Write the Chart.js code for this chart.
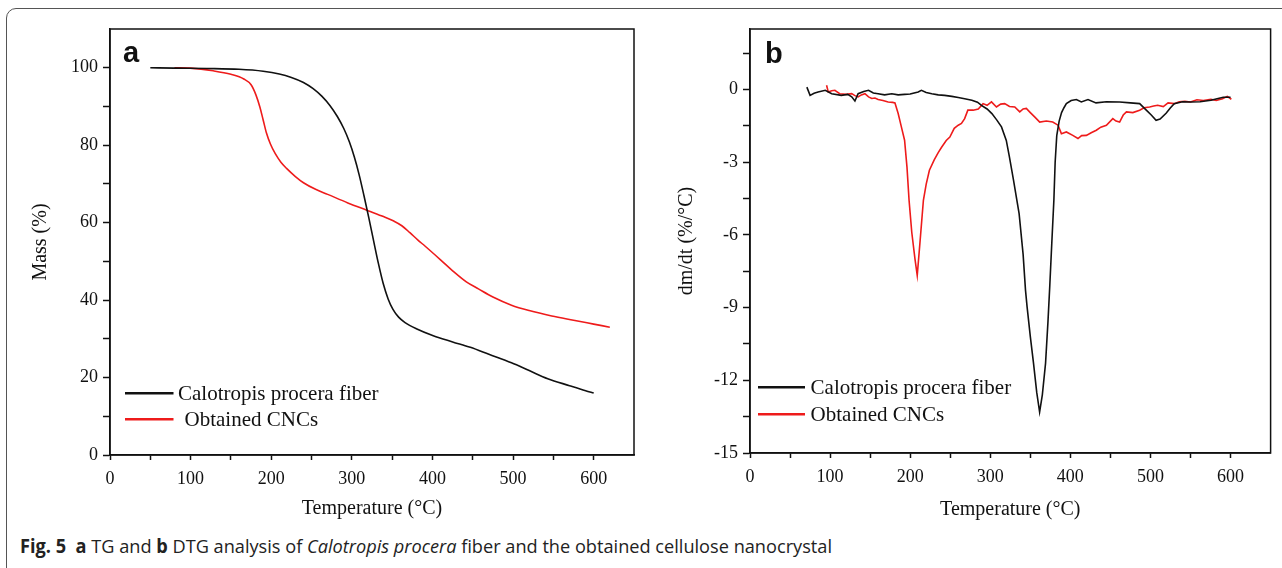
<!DOCTYPE html>
<html>
<head>
<meta charset="utf-8">
<script src="https://cdn.jsdelivr.net/npm/chart.js@4.4.1/dist/chart.umd.min.js"></script>
<style>
  html, body { margin: 0; padding: 0; background: #fff; }
  body { width: 1282px; height: 568px; position: relative; overflow: hidden; }
  .frame {
    position: absolute; left: 6px; top: 8px; width: 1300px; height: 572px;
    border: 1.5px solid #555; border-radius: 10px; box-sizing: border-box;
  }
  canvas { position: absolute; top: 0; }
  #tg { left: 0; }
  #dtg { left: 640px; }
  #caption {
    position: absolute; left: 20px; top: 536px; line-height: 20px;
    font-family: "Open Sans", sans-serif; font-size: 19px; color: #222;
    white-space: nowrap; transform-origin: 0 0;
  }
</style>
</head>
<body>
<div class="frame"></div>
<canvas id="tg" width="640" height="530"></canvas>
<canvas id="dtg" width="642" height="530"></canvas>
<div id="caption"><b>Fig. 5</b>&nbsp; <b>a</b> TG and <b>b</b> DTG analysis of <i>Calotropis procera</i> fiber and the obtained cellulose nanocrystal</div>

<script>
// Series labels
const fiberLabel = 'Calotropis procera fiber';
const cncLabel = 'Obtained CNCs';

// (a) TG - mass (%) vs temperature (°C)
const tgFiberTemp = [50, 80, 120, 160, 190, 210, 225, 240, 252, 263, 273, 282, 290, 297, 303, 309, 315, 321, 327, 333, 339, 345, 351, 358, 366, 380, 401, 425, 447, 470, 498, 520, 543, 570, 590, 600];
const tgFiberMass = [100, 99.9, 99.8, 99.6, 99.1, 98.4, 97.5, 96.2, 94.6, 92.6, 90.2, 87.4, 84.3, 80.8, 77, 72.4, 67, 61.3, 55.3, 49.4, 44.2, 40.3, 37.6, 35.6, 34.2, 32.6, 30.8, 29.2, 27.8, 26.0, 23.8, 21.8, 19.7, 17.9, 16.6, 16.0];

const tgCncTemp = [80, 100, 128, 150, 166, 175, 181, 186, 190, 194, 199, 205, 212, 219, 230, 240, 255, 270, 295, 320, 340, 352, 362, 372, 382, 391, 410, 427, 442, 457, 475, 498, 520, 548, 575, 600, 620];
const tgCncMass = [100, 99.9, 99.2, 98.3, 97.1, 95.6, 93, 89.8, 86.5, 83.2, 80.3, 77.8, 75.6, 74, 71.9, 70.3, 68.6, 67.3, 65.1, 63.1, 61.5, 60.4, 59.2, 57.4, 55.5, 53.9, 50.4, 47.2, 44.7, 42.9, 40.8, 38.7, 37.3, 35.9, 34.8, 33.8, 33.0];

// (b) DTG - dm/dt (%/°C) vs temperature (°C)
const dtgFiberTemp = [71, 75, 80, 85, 94, 102, 114, 122, 127, 131, 135, 142, 148, 154, 160, 168, 177, 185, 193, 200, 210, 214, 220, 227, 235, 243, 252, 260, 268, 277, 284, 289, 296, 302, 308, 314, 320, 324, 329, 336, 341, 344, 346, 350, 354, 358, 361.6, 365, 369, 372, 374.3, 377, 379.4, 381, 383, 386, 389, 392, 395, 401, 407.5, 413.7, 422, 432, 445, 461.5, 475, 486.5, 494.8, 501, 507, 512, 519.5, 525, 529.7, 540, 550, 562, 575.5, 590.8, 600];
const dtgFiberRate = [0.1, -0.24, -0.15, -0.1, -0.03, -0.17, -0.24, -0.2, -0.3, -0.47, -0.17, -0.08, -0.03, -0.14, -0.17, -0.22, -0.17, -0.22, -0.2, -0.18, -0.1, -0.03, -0.12, -0.17, -0.22, -0.24, -0.28, -0.33, -0.38, -0.44, -0.52, -0.65, -0.8, -0.99, -1.25, -1.54, -2.1, -2.8, -3.74, -5.12, -6.8, -8.29, -8.98, -10.2, -11.3, -12.5, -13.31, -12.6, -11.3, -9.6, -8.1, -6.2, -4.57, -3.0, -1.9, -1.3, -0.95, -0.75, -0.58, -0.45, -0.41, -0.51, -0.41, -0.55, -0.5, -0.51, -0.55, -0.58, -0.85, -1.05, -1.27, -1.22, -0.98, -0.75, -0.58, -0.5, -0.51, -0.5, -0.44, -0.32, -0.32];

const dtgCncTemp = [95.6, 97.7, 102, 106, 112, 120, 127, 131, 135, 139, 143.5, 148, 152, 156, 160, 166, 172.5, 178, 181, 185, 189, 193, 196, 198.6, 202, 206, 208.8, 212, 216.5, 220, 224, 230, 235, 239.4, 245, 249.5, 255, 260, 264, 268, 272, 278.6, 285, 291, 296, 301.5, 307.7, 313, 318, 324, 330.6, 336.8, 341, 345, 350, 356, 361.7, 370, 378, 384.6, 388.8, 395, 403, 409.5, 414, 420, 426, 432.4, 438, 445, 453, 457, 461.5, 466, 470, 478, 486.5, 492, 499, 504, 509, 516, 522, 529.7, 536, 543, 550, 558, 566, 575.5, 582, 590, 595.9, 601];
const dtgCncRate = [0.18, -0.1, -0.05, -0.03, -0.17, -0.2, -0.17, -0.25, -0.3, -0.22, -0.17, -0.3, -0.37, -0.35, -0.41, -0.45, -0.51, -0.53, -0.55, -0.99, -1.54, -2.09, -3.2, -4.57, -5.9, -7.0, -7.67, -6.4, -4.57, -3.9, -3.33, -2.9, -2.6, -2.37, -2.1, -1.96, -1.6, -1.47, -1.4, -1.2, -0.85, -0.85, -0.8, -0.58, -0.65, -0.51, -0.72, -0.6, -0.58, -0.7, -0.72, -0.92, -0.8, -0.78, -0.95, -1.15, -1.34, -1.3, -1.34, -1.47, -1.82, -1.75, -1.89, -2.02, -1.9, -1.89, -1.78, -1.68, -1.55, -1.47, -1.2, -1.3, -1.34, -1.05, -0.92, -0.95, -0.85, -0.75, -0.72, -0.68, -0.65, -0.7, -0.55, -0.58, -0.5, -0.48, -0.51, -0.42, -0.45, -0.4, -0.45, -0.38, -0.28, -0.4];

// Axis labels
const xTitle = 'Temperature (°C)';
const tgYTitle = 'Mass (%)';
const dtgYTitle = 'dm/dt (%/°C)';

const INK = '#111';
const RED = '#ee1b1b';
const serif = '"Liberation Serif", "Times New Roman", serif';

const toPoints = (xs, ys) => xs.map((x, i) => ({ x: x, y: ys[i] }));

// Box round the plot area (top and right sides have no ticks)
const plotBox = {
    id: 'plotBox',
    afterDraw(chart) {
        const { ctx, chartArea: { left, top, right, bottom } } = chart;
        ctx.save();
        ctx.strokeStyle = INK;
        ctx.lineWidth = 1.5;
        ctx.strokeRect(left, top, right - left, bottom - top);
        ctx.restore();
    }
};

// Panel letter plus the legend that sits inside the plot
function panelDecor(letter, lx, ly, items) {
    return {
        id: 'panelDecor',
        afterDraw(chart) {
            const ctx = chart.ctx;
            ctx.save();
            ctx.fillStyle = INK;
            ctx.font = 'bold 29px "Liberation Sans", Arial, sans-serif';
            ctx.textBaseline = 'alphabetic';
            ctx.fillText(letter, lx, ly);

            ctx.font = '21px ' + serif;
            ctx.textBaseline = 'middle';
            items.forEach(item => {
                const ds = chart.data.datasets[item.index];
                ctx.strokeStyle = ds.borderColor;
                ctx.lineWidth = 2.5;
                ctx.beginPath();
                ctx.moveTo(item.x0, item.y);
                ctx.lineTo(item.x1, item.y);
                ctx.stroke();
                ctx.fillStyle = INK;
                ctx.fillText(ds.label, item.tx, item.y + 1);
            });
            ctx.restore();
        }
    };
}

function makeScales(o) {
    return {
        x: {
            type: 'linear',
            min: 0,
            max: 650,
            afterFit: s => { s.height = o.xHeight; },
            afterBuildTicks: s => { s.ticks = s.ticks.filter(t => t.value < 649); },
            ticks: {
                stepSize: 50,
                autoSkip: false,
                maxRotation: 0,
                padding: 8,
                color: INK,
                font: { family: serif, size: 18 },
                callback: v => (v % 100 === 0 ? String(v) : '')
            },
            grid: { drawOnChartArea: false, tickLength: 5, tickColor: INK, tickWidth: 1.5 },
            border: { display: true, color: INK, width: 1.5 },
            title: {
                display: true,
                text: xTitle,
                color: INK,
                font: { family: serif, size: 20 },
                padding: { top: 0, bottom: o.xTitlePad }
            }
        },
        y: {
            type: 'linear',
            min: o.yMin,
            max: o.yMax,
            afterFit: s => { s.width = 110; },
            afterBuildTicks: s => { s.ticks = s.ticks.filter(t => t.value < o.yLast); },
            ticks: {
                stepSize: o.yStep,
                autoSkip: false,
                padding: 5,
                color: INK,
                font: { family: serif, size: 18 },
                callback: v => {
                    const r = v / o.yLabelStep;
                    return Math.abs(r - Math.round(r)) < 1e-6 ? String(Math.round(v)) : '';
                }
            },
            grid: { drawOnChartArea: false, tickLength: 7, tickColor: INK, tickWidth: 1.5 },
            border: { display: true, color: INK, width: 1.5 },
            title: {
                display: true,
                text: o.yTitle,
                color: INK,
                font: { family: serif, size: 20 },
                padding: { top: o.yTitlePad, bottom: 0 }
            }
        }
    };
}

function lineSet(label, xs, ys, color, smooth) {
    return {
        label: label,
        data: toPoints(xs, ys),
        borderColor: color,
        backgroundColor: color,
        borderWidth: 1.6,
        pointRadius: 0,
        fill: false,
        tension: 0,
        cubicInterpolationMode: smooth ? 'monotone' : 'default'
    };
}

const commonOptions = {
    responsive: false,
    animation: false,
    devicePixelRatio: 1,
    plugins: { legend: { display: false }, tooltip: { enabled: false } }
};

new Chart(document.getElementById('tg'), {
    type: 'line',
    data: {
        datasets: [
            lineSet(fiberLabel, tgFiberTemp, tgFiberMass, INK, true),
            lineSet(cncLabel, tgCncTemp, tgCncMass, RED, true)
        ]
    },
    options: {
        ...commonOptions,
        layout: { padding: { left: 0, top: 29, right: 6, bottom: 0 } },
        scales: makeScales({
            xHeight: 75, xTitlePad: 9,
            yMin: 0, yMax: 110, yStep: 10, yLabelStep: 20, yLast: 109,
            yTitle: tgYTitle, yTitlePad: 29
        })
    },
    plugins: [plotBox, panelDecor('a', 123, 62, [
        { index: 0, x0: 125, x1: 173.5, y: 393.3, tx: 178 },
        { index: 1, x0: 125, x1: 173.5, y: 419.3, tx: 184.5 }
    ])]
});

new Chart(document.getElementById('dtg'), {
    type: 'line',
    data: {
        datasets: [
            lineSet(fiberLabel, dtgFiberTemp, dtgFiberRate, INK, false),
            lineSet(cncLabel, dtgCncTemp, dtgCncRate, RED, false)
        ]
    },
    options: {
        ...commonOptions,
        layout: { padding: { left: 0, top: 29, right: 11.4, bottom: 0 } },
        scales: makeScales({
            xHeight: 77, xTitlePad: 8,
            yMin: -15, yMax: 2.5, yStep: 1.5, yLabelStep: 3, yLast: 2,
            yTitle: dtgYTitle, yTitlePad: 35
        })
    },
    plugins: [plotBox, panelDecor('b', 125, 63, [
        { index: 0, x0: 118, x1: 165, y: 387.3, tx: 170.6 },
        { index: 1, x0: 118, x1: 165, y: 414.3, tx: 170.6 }
    ])]
});

// Caption is set in a condensed face in the original: squeeze to its width
const caption = document.getElementById('caption');
const capWidth = caption.getBoundingClientRect().width;
caption.style.transform = 'scaleX(' + (812 / capWidth) + ')';
</script>
</body>
</html>
